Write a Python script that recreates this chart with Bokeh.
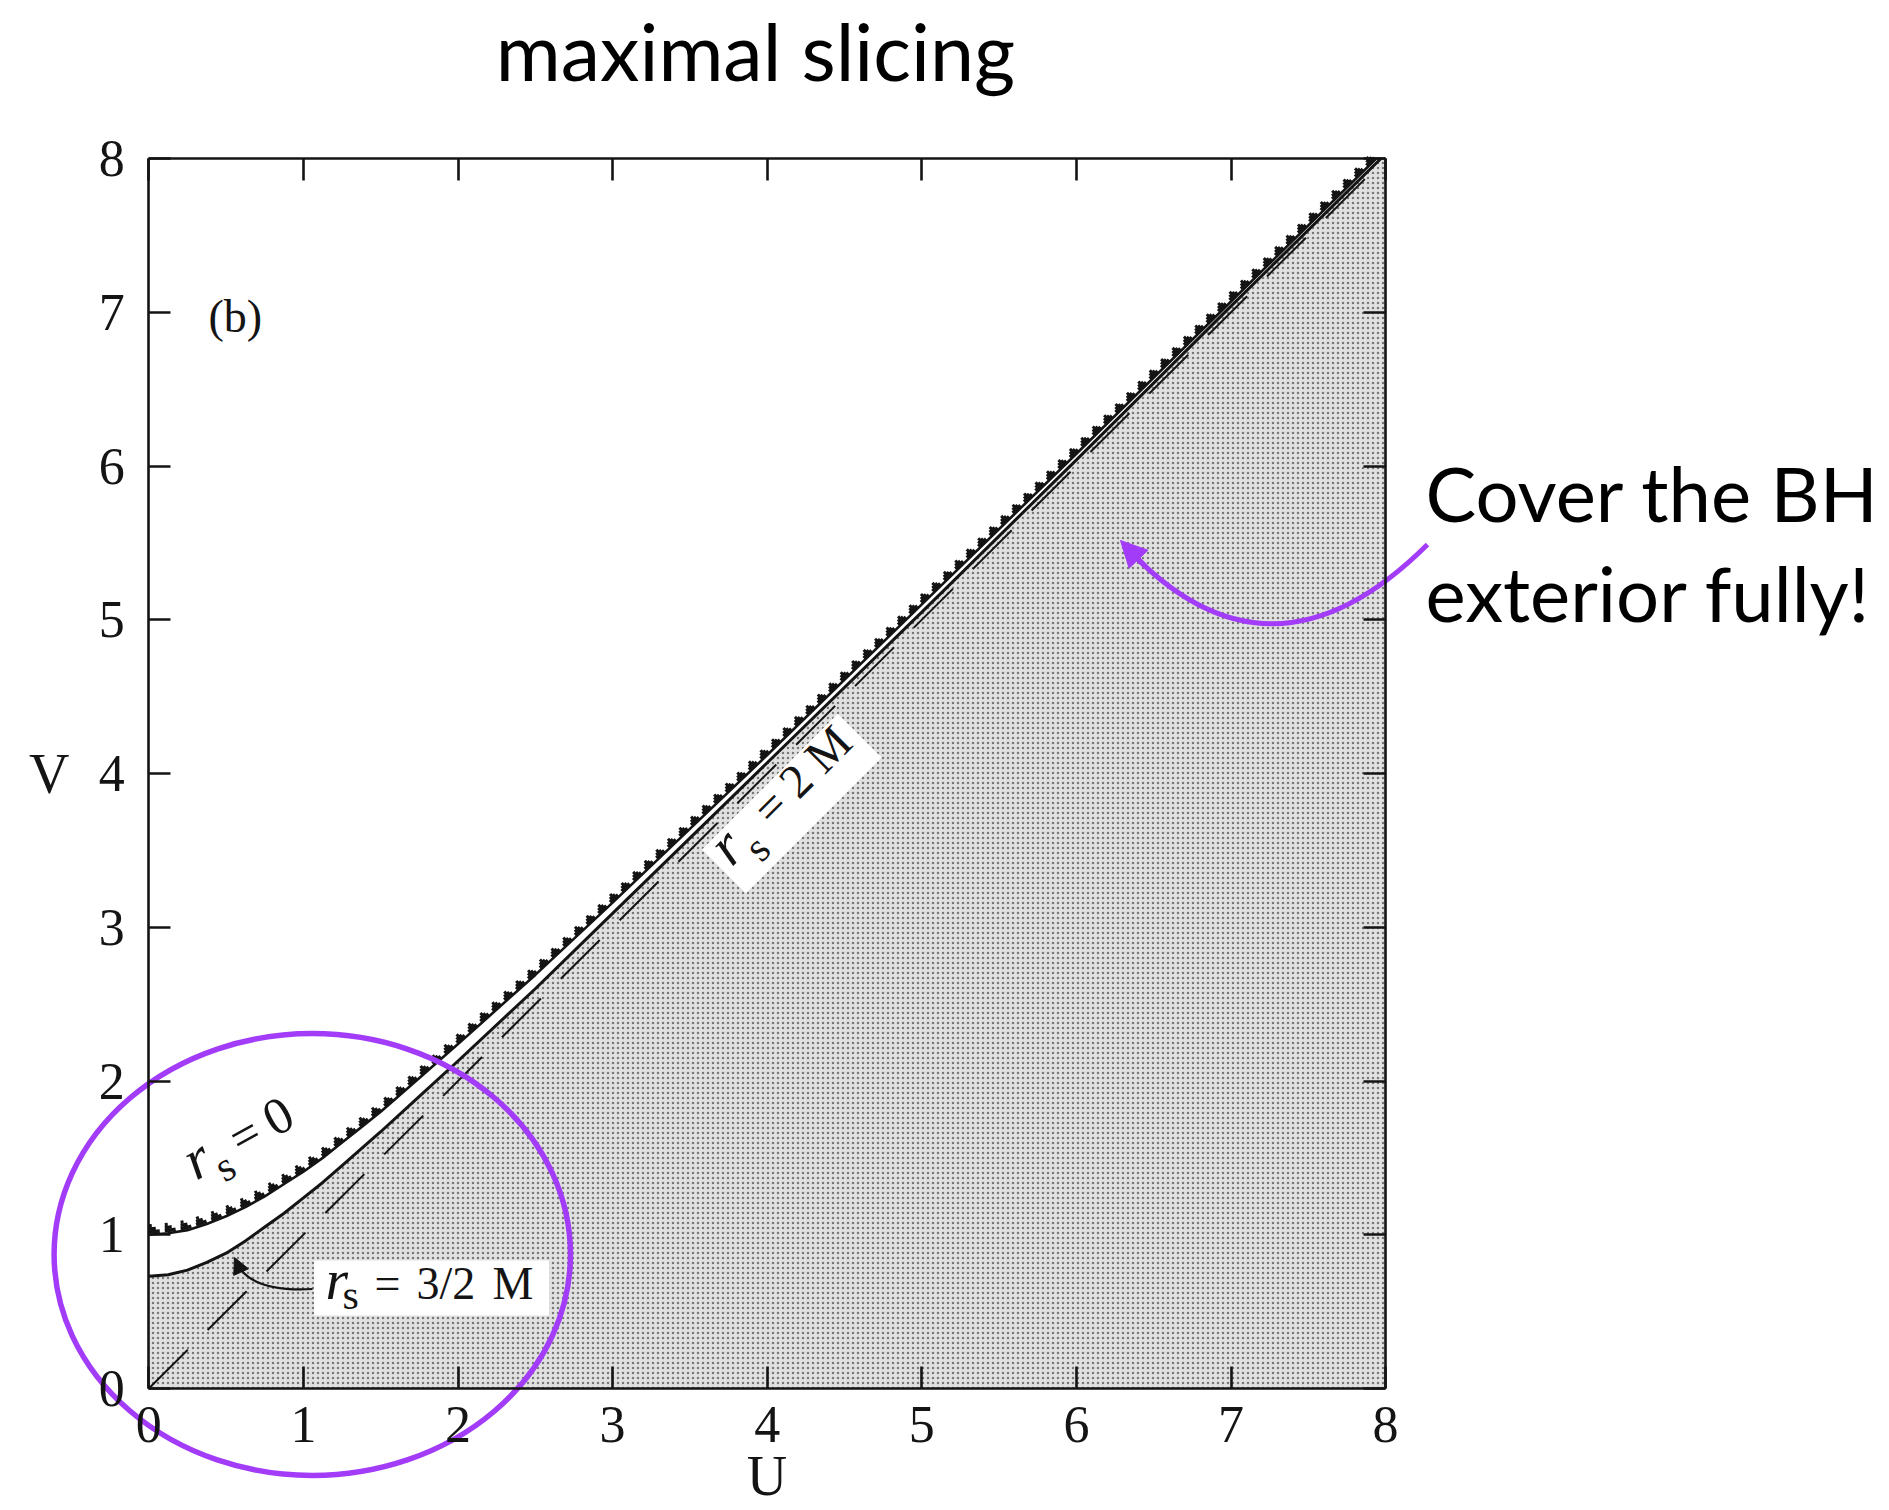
import numpy as np
from bokeh.plotting import figure
from bokeh.models import Range1d, LinearAxis, FixedTicker, Label, Arrow, NormalHead
from bokeh.embed import file_html
from bokeh.resources import INLINE

# ---------------- data ----------------
tick_values = [0, 1, 2, 3, 4, 5, 6, 7, 8]
tick_labels = ["0", "1", "2", "3", "4", "5", "6", "7", "8"]

# r_s = 2M  (dashed straight line)
horizon_u = [0.0, 8.0]
horizon_v = [0.0, 8.0]

# r_s = 3/2 M  (limit surface, solid curve)
limit_u = [0.0, 0.125, 0.25, 0.375, 0.5, 0.625, 0.75, 0.875, 1.0, 1.125, 1.25, 1.375,
           1.5, 1.75, 2.0, 2.5, 3.0, 3.5, 4.0, 5.0, 6.0, 7.0, 7.97]
limit_v = [0.73, 0.74, 0.77, 0.82, 0.88, 0.96, 1.05, 1.14, 1.24, 1.34, 1.45, 1.56,
           1.67, 1.90, 2.13, 2.60, 3.09, 3.58, 4.07, 5.05, 6.04, 7.04, 8.0]

# r_s = 0  (singularity, jagged curve)
sing_u = [0.0, 0.125, 0.25, 0.375, 0.5, 0.625, 0.75, 0.875, 1.0, 1.125, 1.25, 1.375,
          1.5, 1.75, 2.0, 2.5, 3.0, 3.5, 4.0, 5.0, 6.0, 7.0, 7.94]
sing_v = [1.00, 1.01, 1.03, 1.07, 1.12, 1.18, 1.25, 1.33, 1.41, 1.50, 1.60, 1.70,
          1.80, 2.02, 2.24, 2.69, 3.16, 3.64, 4.12, 5.10, 6.08, 7.07, 8.0]

# ---------------- layout helpers ----------------
W, H = 1889, 1510
X0, Y0 = 148.3, 1388.0      # page pixel of U=0 / V=0
SU, SV = 154.6, 153.75      # page pixels per unit


def du(X):
    return (X - X0) / SU


def dv(Y):
    return (Y0 - Y) / SV


INK = "#141414"
PURPLE = "#a23cf8"
SERIF = "Liberation Serif"
SANS = "Lato"
MID = {SERIF: 0.36, SANS: 0.387}

p = figure(width=W, height=H,
           x_range=Range1d(du(0), du(W)), y_range=Range1d(dv(H), dv(0)),
           x_axis_location=None, y_axis_location=None,
           toolbar_location=None, output_backend="svg",
           min_border=0, min_border_left=0, min_border_right=0,
           min_border_top=0, min_border_bottom=0,
           outline_line_color=None, background_fill_color="white",
           border_fill_color="white")
p.grid.visible = False

# shaded exterior region (below the r_s = 3/2 M curve)
shade_u = [0.0] + limit_u + [8.0, 8.0]
shade_v = [0.0] + limit_v + [8.0, 0.0]
p.patch(shade_u, shade_v, fill_color="#e1e1e1", line_color=None,
        hatch_pattern="dot", hatch_scale=5, hatch_color="#777777", hatch_weight=1.0)


def along(X, Y, a, q, ang):
    th = np.radians(ang)
    return (X + a * np.cos(th) + q * np.sin(th),
            Y - a * np.sin(th) + q * np.cos(th))


# white boxes behind the labels
bx, by = along(733.3, 866.7, 86, -4, 45)
p.rect(x=[du(431), du(bx)], y=[dv(1287.5), dv(by)],
       width=[235, 192], height=[55, 62], angle=[0, np.radians(45)],
       width_units="screen", height_units="screen",
       fill_color="white", line_color=None)

# r_s = 2M dashed line
p.line(horizon_u, horizon_v, line_color=INK, line_width=2.0, line_dash="55 28")

# r_s = 3/2 M
p.line(limit_u, limit_v, line_color=INK, line_width=3.0)

# r_s = 0 : base line plus teeth (three stacked dash rows give small triangles)
p.line(sing_u, sing_v, line_color=INK, line_width=2.6)
for shift, width, dash in [(0.018, 3.6, "11 5"), (0.038, 3.4, "7 9"), (0.058, 3.2, "3 13")]:
    p.line(sing_u, [v + shift for v in sing_v], line_color=INK, line_width=width,
           line_dash=dash)


# axes (frame with inward ticks)
def make_axis(loc, show_labels):
    ax = LinearAxis(fixed_location=loc, bounds=(0, 8),
                    ticker=FixedTicker(ticks=tick_values, minor_ticks=[]),
                    major_tick_in=22, major_tick_out=0,
                    minor_tick_in=0, minor_tick_out=0,
                    axis_line_width=2.6, axis_line_color=INK,
                    major_tick_line_width=2.6, major_tick_line_color=INK,
                    major_label_text_font=SERIF,
                    major_label_text_font_size="52px",
                    major_label_text_color=INK)
    if show_labels:
        ax.major_label_overrides = {t: s for t, s in zip(tick_values, tick_labels)}
    else:
        ax.major_label_overrides = {t: "" for t in tick_values}
    return ax


ax_b = make_axis(0, True)
ax_b.major_label_standoff = 18
ax_b.axis_label = "U"
ax_b.axis_label_text_font = SERIF
ax_b.axis_label_text_font_size = "56px"
ax_b.axis_label_text_font_style = "normal"
ax_b.axis_label_text_color = INK
ax_b.axis_label_standoff = 0
p.add_layout(ax_b, "below")

ax_l = make_axis(0, True)
ax_l.major_label_standoff = 24
ax_l.axis_label = "V"
ax_l.axis_label_orientation = "horizontal"
ax_l.axis_label_text_font = SERIF
ax_l.axis_label_text_font_size = "56px"
ax_l.axis_label_text_font_style = "normal"
ax_l.axis_label_text_color = INK
ax_l.axis_label_standoff = 26
p.add_layout(ax_l, "left")

p.add_layout(make_axis(8, False), "above")
p.add_layout(make_axis(8, False), "right")

# black curved arrow to the r_s = 3/2 M curve
p.quadratic(x0=[du(312)], y0=[dv(1288.5)], x1=[du(236)], y1=[dv(1262)],
            cx=[du(250)], cy=[dv(1292)], line_color=INK, line_width=2.2)
p.add_layout(Arrow(end=NormalHead(size=16, fill_color=INK, line_color=INK, line_width=1),
                   x_start=du(240.5), y_start=dv(1271.5), x_end=du(234), y_end=dv(1257),
                   line_color=INK, line_width=2.2))

# purple ellipse and arrow
p.ellipse(x=[du(311.8)], y=[dv(1254)], width=[2 * 258.2 / SU], height=[2 * 221 / SV],
          fill_color=None, line_color=PURPLE, line_width=5.5)
p.quadratic(x0=[du(1427)], y0=[dv(544)], x1=[du(1124)], y1=[dv(545)],
            cx=[du(1268.5)], cy=[dv(702)], line_color=PURPLE, line_width=5)
p.add_layout(Arrow(end=NormalHead(size=26, fill_color=PURPLE, line_color=PURPLE, line_width=1),
                   x_start=du(1145), y_start=dv(566), x_end=du(1120), y_end=dv(540),
                   line_color=PURPLE, line_width=5))


def label(X, Y, text, size, font=SERIF, style="normal", ang=0, align="left"):
    # (X, Y) is the wanted left (or centre) point of the text baseline, page pixels
    ax_, ay_ = along(X, Y, 0, -MID[font] * size, ang)
    p.add_layout(Label(x=du(ax_), y=dv(ay_), text=text, angle=np.radians(ang),
                       text_font=font, text_font_size=f"{size}px",
                       text_font_style=style, text_color=INK if font == SERIF else "black",
                       text_align=align, text_baseline="alphabetic"))


def rot_pieces(X, Y, ang, pieces):
    for text, a, q, size, style in pieces:
        sx, sy = along(X, Y, a, q, ang)
        label(sx, sy, text, size, style=style, ang=ang)


# curve labels
rot_pieces(327, 1300, 0, [("r", -2, 0, 58, "italic"), ("s", 15, 10, 42, "normal"),
                          ("=", 47, 0, 46, "normal"), ("3/2", 89, 0, 46, "normal"),
                          ("M", 165, 0, 46, "normal")])
rot_pieces(733.3, 866.7, 45, [("r", -2, 0, 58, "italic"), ("s", 22, 18, 42, "normal"),
                              ("=", 55, 0, 48, "normal"), ("2", 93, 0, 48, "normal"),
                              ("M", 129, 0, 48, "normal")])
rot_pieces(198, 1180.7, 29, [("r", -2, 0, 58, "italic"), ("s", 22, 15, 42, "normal"),
                             ("=", 49, 0, 50, "normal"), ("0", 88, 0, 52, "normal")])

label(208, 333, "(b)", 46)

# title and annotation
label(755, 81, "maximal slicing", 79, font=SANS, align="center")
label(1425, 521, "Cover the BH", 76, font=SANS)
label(1425, 621, "exterior fully!", 76, font=SANS)

open("out.html", "w").write(file_html(p, INLINE))
